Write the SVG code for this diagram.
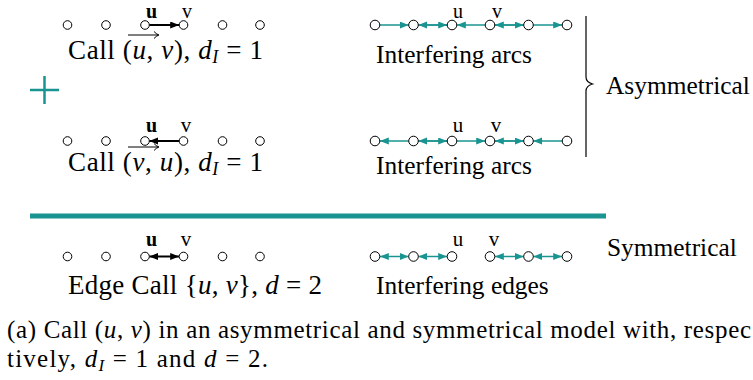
<svg xmlns="http://www.w3.org/2000/svg" width="753" height="380" viewBox="0 0 753 380">
<style>
text{font-family:"Liberation Serif","Times New Roman",serif;fill:#000}
.lbl{font-size:21px;text-anchor:middle}
.lblb{font-size:20px;text-anchor:middle;font-weight:bold}
.top{font-size:20px}
.big{font-size:25.4px}
.cm{font-size:27px}
.cap{font-size:25px}
.it{font-style:italic}
.nl{fill:#fff;stroke:#000;stroke-width:1}
.ta{stroke:#1a9490;stroke-width:1.5;fill:none;marker-end:url(#ta)}
.td{stroke:#1a9490;stroke-width:1.5;fill:none;marker-end:url(#ta);marker-start:url(#tas)}
.ba{stroke:#000;stroke-width:2;fill:none;marker-end:url(#ba)}
.bd{stroke:#000;stroke-width:2;fill:none;marker-end:url(#ba);marker-start:url(#bas)}
.ov{stroke:#000;stroke-width:1;fill:none}
</style>
<defs>
<marker id="ta" markerUnits="userSpaceOnUse" markerWidth="10" markerHeight="8" refX="9" refY="3.5" orient="auto"><path d="M0,0 L9,3.5 L0,7 z" fill="#1a9490"/></marker>
<marker id="tas" markerUnits="userSpaceOnUse" markerWidth="10" markerHeight="8" refX="9" refY="3.5" orient="auto-start-reverse"><path d="M0,0 L9,3.5 L0,7 z" fill="#1a9490"/></marker>
<marker id="ba" markerUnits="userSpaceOnUse" markerWidth="10" markerHeight="8" refX="9" refY="3.5" orient="auto"><path d="M0,0 L9,3.5 L0,7 z" fill="#000"/></marker>
<marker id="bas" markerUnits="userSpaceOnUse" markerWidth="10" markerHeight="8" refX="9" refY="3.5" orient="auto-start-reverse"><path d="M0,0 L9,3.5 L0,7 z" fill="#000"/></marker>
</defs>

<g id="connectors">
  <line class="ba" x1="149.3" y1="25" x2="179.2" y2="25"/>
  <line class="ta" x1="379.8" y1="25" x2="408.7" y2="25"/>
  <line class="ta" x1="447.2" y1="25" x2="418.3" y2="25"/>
  <line class="ta" x1="418.3" y1="25" x2="447.2" y2="25"/>
  <line class="ta" x1="485.2" y1="25" x2="456.8" y2="25"/>
  <line class="ta" x1="523.7" y1="25" x2="494.8" y2="25"/>
  <line class="ta" x1="494.8" y1="25" x2="523.7" y2="25"/>
  <line class="ta" x1="533.3" y1="25" x2="562.2" y2="25"/>
  <line class="ba" x1="179.2" y1="141" x2="149.3" y2="141"/>
  <line class="ta" x1="408.7" y1="141" x2="379.8" y2="141"/>
  <line class="ta" x1="447.2" y1="141" x2="418.3" y2="141"/>
  <line class="ta" x1="418.3" y1="141" x2="447.2" y2="141"/>
  <line class="ta" x1="456.8" y1="141" x2="485.2" y2="141"/>
  <line class="ta" x1="523.7" y1="141" x2="494.8" y2="141"/>
  <line class="ta" x1="494.8" y1="141" x2="523.7" y2="141"/>
  <line class="ta" x1="562.2" y1="141" x2="533.3" y2="141"/>
  <line class="bd" x1="149.3" y1="256.5" x2="179.2" y2="256.5"/>
  <line class="td" x1="379.8" y1="256.5" x2="408.7" y2="256.5"/>
  <line class="td" x1="418.3" y1="256.5" x2="447.2" y2="256.5"/>
  <line class="td" x1="494.8" y1="256.5" x2="523.7" y2="256.5"/>
  <line class="td" x1="533.3" y1="256.5" x2="562.2" y2="256.5"/>
</g>

<g id="row1-left">
  <circle class="nl" cx="67.5" cy="25" r="4.3"/>
  <circle class="nl" cx="106" cy="25" r="4.3"/>
  <circle class="nl" cx="145" cy="25" r="4.3"/>
  <circle class="nl" cx="183.5" cy="25" r="4.3"/>
  <circle class="nl" cx="222.5" cy="25" r="4.3"/>
  <circle class="nl" cx="260" cy="25" r="4.3"/>
  <text class="lblb top" x="151.5" y="18">u</text>
  <text class="lbl top" x="187" y="18">v</text>
</g>
<g id="row1-right">
  <circle class="nl" cx="375" cy="25" r="4.8"/>
  <circle class="nl" cx="413.5" cy="25" r="4.8"/>
  <circle class="nl" cx="452" cy="25" r="4.8"/>
  <circle class="nl" cx="490" cy="25" r="4.8"/>
  <circle class="nl" cx="528.5" cy="25" r="4.8"/>
  <circle class="nl" cx="567" cy="25" r="4.8"/>
  <text class="lbl top" x="458" y="18">u</text>
  <text class="lbl top" x="497" y="18">v</text>
</g>
<g id="row2-left">
  <circle class="nl" cx="67.5" cy="141" r="4.3"/>
  <circle class="nl" cx="106" cy="141" r="4.3"/>
  <circle class="nl" cx="145" cy="141" r="4.3"/>
  <circle class="nl" cx="183.5" cy="141" r="4.3"/>
  <circle class="nl" cx="222.5" cy="141" r="4.3"/>
  <circle class="nl" cx="260" cy="141" r="4.3"/>
  <text class="lblb" x="151.5" y="132">u</text>
  <text class="lbl" x="186" y="132">v</text>
</g>
<g id="row2-right">
  <circle class="nl" cx="375" cy="141" r="4.8"/>
  <circle class="nl" cx="413.5" cy="141" r="4.8"/>
  <circle class="nl" cx="452" cy="141" r="4.8"/>
  <circle class="nl" cx="490" cy="141" r="4.8"/>
  <circle class="nl" cx="528.5" cy="141" r="4.8"/>
  <circle class="nl" cx="567" cy="141" r="4.8"/>
  <text class="lbl" x="458" y="132">u</text>
  <text class="lbl" x="496" y="132">v</text>
</g>
<g id="row3-left">
  <circle class="nl" cx="67.5" cy="256.5" r="4.3"/>
  <circle class="nl" cx="106" cy="256.5" r="4.3"/>
  <circle class="nl" cx="145" cy="256.5" r="4.3"/>
  <circle class="nl" cx="183.5" cy="256.5" r="4.3"/>
  <circle class="nl" cx="222.5" cy="256.5" r="4.3"/>
  <circle class="nl" cx="260" cy="256.5" r="4.3"/>
  <text class="lblb" x="151.5" y="246">u</text>
  <text class="lbl" x="186" y="246">v</text>
</g>
<g id="row3-right">
  <circle class="nl" cx="375" cy="256.5" r="4.8"/>
  <circle class="nl" cx="413.5" cy="256.5" r="4.8"/>
  <circle class="nl" cx="452" cy="256.5" r="4.8"/>
  <circle class="nl" cx="490" cy="256.5" r="4.8"/>
  <circle class="nl" cx="528.5" cy="256.5" r="4.8"/>
  <circle class="nl" cx="567" cy="256.5" r="4.8"/>
  <text class="lbl" x="458" y="246">u</text>
  <text class="lbl" x="494" y="246">v</text>
</g>

<g id="captions">
  <text class="cm" x="68" y="59" textLength="195" lengthAdjust="spacing">Call (<tspan class="it">u</tspan>, <tspan class="it">v</tspan>), <tspan class="it">d</tspan><tspan class="it" font-size="18" dy="4">I</tspan><tspan dy="-4"> = 1</tspan></text>
  <path class="ov" d="M128,35 H158 M154,31.5 Q156,34 159,35 Q156,36 154,38.5"/>
  <text class="big" x="376" y="63">Interfering arcs</text>

  <text class="cm" x="68" y="171" textLength="195" lengthAdjust="spacing">Call (<tspan class="it">v</tspan>, <tspan class="it">u</tspan>), <tspan class="it">d</tspan><tspan class="it" font-size="18" dy="4">I</tspan><tspan dy="-4"> = 1</tspan></text>
  <path class="ov" d="M128,147 H158 M154,143.5 Q156,146 159,147 Q156,148 154,150.5"/>
  <text class="big" x="376" y="174">Interfering arcs</text>

  <text class="cm" x="68" y="294" textLength="254" lengthAdjust="spacing">Edge Call {<tspan class="it">u</tspan>, <tspan class="it">v</tspan>}, <tspan class="it">d</tspan> = 2</text>
  <text class="big" x="376" y="294">Interfering edges</text>
</g>

<g id="asymmetrical">
  <path d="M586,16 L586,77 Q586,82 592.5,84 Q586,86 586,91 L586,157" fill="none" stroke="#000" stroke-width="1.2"/>
  <text class="big" x="606" y="94">Asymmetrical</text>
</g>
<g id="plus">
  <path d="M30,90 H59 M44.5,76 V104" stroke="#1a9490" stroke-width="2.5" fill="none"/>
</g>
<g id="divider">
  <line x1="30" y1="216" x2="606" y2="216" stroke="#1a9490" stroke-width="5"/>
</g>
<g id="symmetrical">
  <text class="big" x="607" y="256">Symmetrical</text>
</g>

<g id="figcaption">
  <text class="cap" x="7" y="338" textLength="744" lengthAdjust="spacing">(a) Call (<tspan class="it">u</tspan>, <tspan class="it">v</tspan>) in an asymmetrical and symmetrical model with, respec</text>
  <text class="cap" x="7" y="367" textLength="261" lengthAdjust="spacing">tively, <tspan class="it">d</tspan><tspan class="it" font-size="17" dy="4">I</tspan><tspan dy="-4"> = 1 and </tspan><tspan class="it">d</tspan> = 2.</text>
</g>
</svg>
